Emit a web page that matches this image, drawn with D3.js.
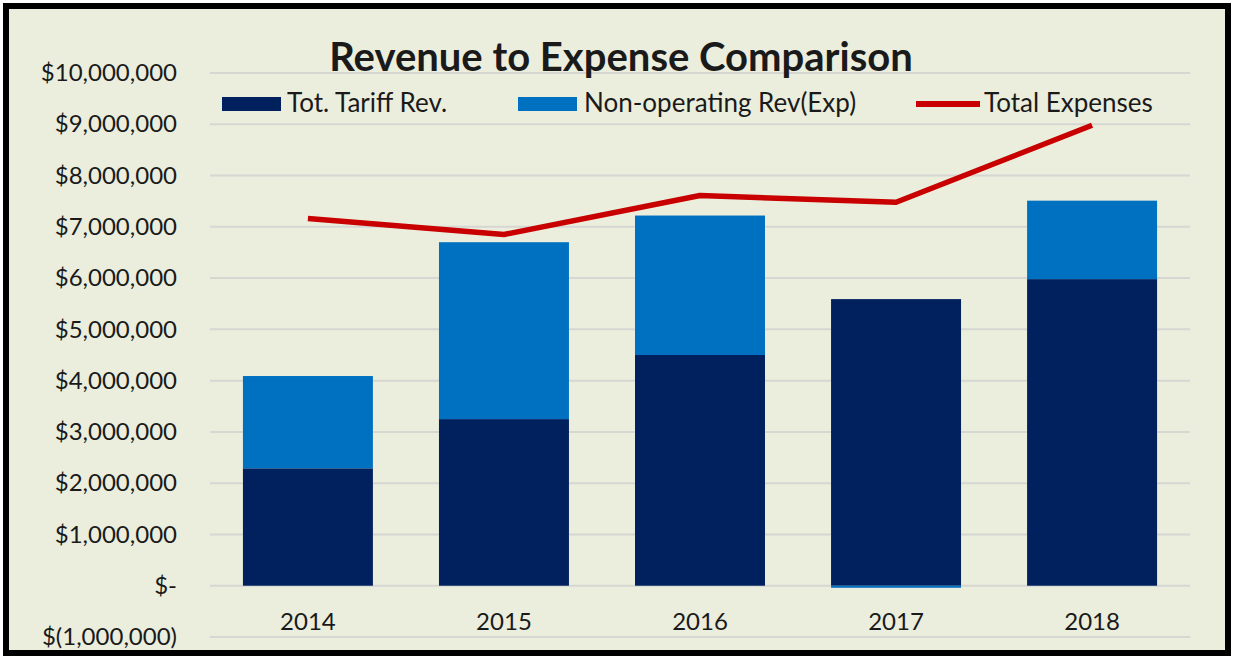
<!DOCTYPE html>
<html>
<head>
<meta charset="utf-8">
<script src="https://cdn.jsdelivr.net/npm/d3@7"></script>
<style>
  html, body { margin: 0; padding: 0; background: #fff; }
  svg { display: block; }
  text { font-family: Lato, "Open Sans", sans-serif; fill: #1a1a1a; }
</style>
</head>
<body>
<svg id="chart" width="1233" height="656"></svg>
<script>
// datos
const years = ["2014", "2015", "2016", "2017", "2018"];
const tariffRev = [2290000, 3250000, 4500000, 5590000, 5980000];
const nonOpRev = [1800000, 3450000, 2720000, -40000, 1530000];
const totalExpenses = [7160000, 6850000, 7610000, 7480000, 8980000];
const yTicks = [-1000000, 0, 1000000, 2000000, 3000000, 4000000, 5000000,
  6000000, 7000000, 8000000, 9000000, 10000000];

const svg = d3.select("#chart");
const W = 1233, H = 656;

// fondo y marco
svg.append("rect").attr("x", 6).attr("y", 6).attr("width", W - 11).attr("height", H - 9)
  .attr("fill", "#ebeedd").attr("stroke", "#000").attr("stroke-width", 6);

const x = d3.scaleBand().domain(years).range([210, 1190]).paddingInner(0.337).paddingOuter(0.168);
const y = d3.scaleLinear().domain([-1000000, 10000000]).range([637, 73]);

const fmt = v => {
  if (v === 0) return "$-";
  const s = d3.format(",")(Math.abs(v));
  return v < 0 ? "$(" + s + ")" : "$" + s;
};

// líneas de cuadrícula
svg.append("g").selectAll("line").data(yTicks).join("line")
  .attr("x1", 210).attr("x2", 1190)
  .attr("y1", d => y(d)).attr("y2", d => y(d))
  .attr("stroke", "#d6d6d3").attr("stroke-width", 2);

// eje y
const yAxis = svg.append("g").attr("transform", "translate(177,0)")
  .call(d3.axisLeft(y).tickValues(yTicks).tickFormat(fmt).tickSize(0).tickPadding(0));
yAxis.select(".domain").remove();
yAxis.selectAll("text").style("font-size", "24px").attr("fill", "#1a1a1a");

// barras apiladas
const rows = years.map((yr, i) => ({ year: yr, tariff: tariffRev[i], nonop: nonOpRev[i] }));
const stack = d3.stack().keys(["tariff", "nonop"]).offset(d3.stackOffsetDiverging);
const series = stack(rows);
const colors = { tariff: "#00205e", nonop: "#0070c0" };

svg.append("g").selectAll("g").data(series).join("g")
  .attr("fill", d => colors[d.key])
  .selectAll("rect").data(d => d).join("rect")
  .attr("x", d => x(d.data.year))
  .attr("width", x.bandwidth())
  .attr("y", d => y(Math.max(d[0], d[1])))
  .attr("height", d => Math.abs(y(d[0]) - y(d[1])));

// eje x
const xAxis = svg.append("g").attr("transform", "translate(0,613)")
  .call(d3.axisBottom(x).tickSize(0).tickPadding(0));
xAxis.select(".domain").remove();
xAxis.selectAll("text").style("font-size", "24px").attr("fill", "#1a1a1a");

// línea de gastos
const line = d3.line().x((d, i) => x(years[i]) + x.bandwidth() / 2).y(d => y(d));
svg.append("path").datum(totalExpenses)
  .attr("d", line).attr("fill", "none")
  .attr("stroke", "#c80000").attr("stroke-width", 5.5).attr("stroke-linejoin", "round");

// título
svg.append("text").attr("x", 621).attr("y", 71).attr("text-anchor", "middle")
  .style("font-size", "40px").style("font-weight", "bold").attr("fill", "#000")
  .text("Revenue to Expense Comparison");

// leyenda
const legend = svg.append("g");
legend.append("rect").attr("x", 222).attr("y", 97).attr("width", 59).attr("height", 14).attr("fill", colors.tariff);
legend.append("text").attr("x", 287).attr("y", 112).style("font-size", "26px").text("Tot. Tariff Rev.");
legend.append("rect").attr("x", 518).attr("y", 97).attr("width", 59).attr("height", 14).attr("fill", colors.nonop);
legend.append("text").attr("x", 584).attr("y", 112).style("font-size", "26px").text("Non-operating Rev(Exp)");
legend.append("line").attr("x1", 916).attr("x2", 980).attr("y1", 104).attr("y2", 104)
  .attr("stroke", "#c80000").attr("stroke-width", 6);
legend.append("text").attr("x", 984).attr("y", 112).style("font-size", "26px").text("Total Expenses");
</script>
</body>
</html>
